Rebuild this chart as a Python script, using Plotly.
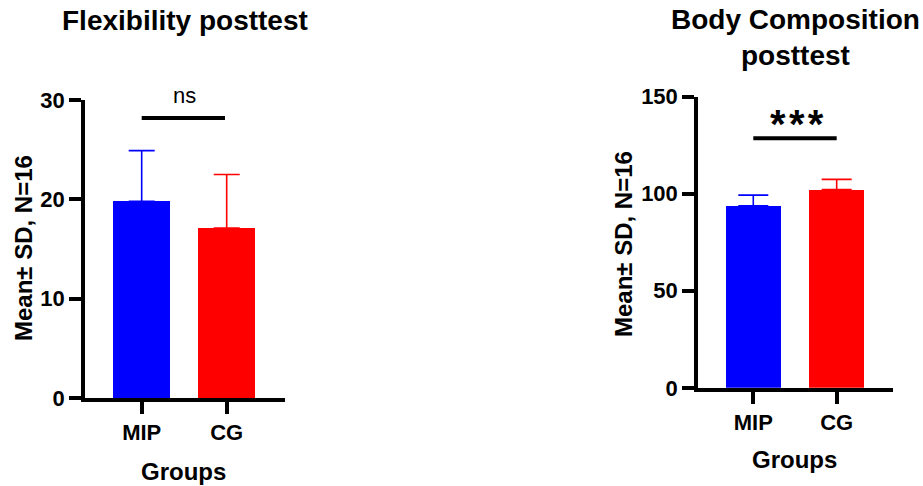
import plotly.graph_objects as go

W, H = 923, 486

groups = ["MIP", "CG"]
colors = ["#0000FF", "#FF0000"]

flex_mean = [19.8, 17.1]
flex_sd = [5.1, 5.4]

body_mean = [93.8, 102.2]
body_sd = [5.5, 5.2]

flex_sig = "ns"
body_sig = "*\u200a*\u200a*"

FONT = "Liberation Sans, Arial, sans-serif"


def px_x(p):
    return p / W


def px_y(p):
    return (H - p) / H


fig = go.Figure()

# bars
fig.add_trace(go.Bar(
    x=groups, y=flex_mean, marker=dict(color=colors, line=dict(width=0)),
    width=0.67, xaxis="x", yaxis="y", showlegend=False,
))
fig.add_trace(go.Bar(
    x=groups, y=body_mean, marker=dict(color=colors, line=dict(width=0)),
    width=0.663, xaxis="x2", yaxis="y2", showlegend=False,
))

# upper SD whiskers, coloured per group
for mean, sd, xa, ya, w in ((flex_mean, flex_sd, "x", "y", 13),
                            (body_mean, body_sd, "x2", "y2", 15)):
    for i, g in enumerate(groups):
        fig.add_trace(go.Scatter(
            x=[g], y=[mean[i]], mode="markers",
            marker=dict(size=1, color=colors[i], opacity=0),
            error_y=dict(type="data", array=[sd[i]], arrayminus=[0], symmetric=False,
                         color=colors[i], thickness=1.6, width=w),
            xaxis=xa, yaxis=ya, showlegend=False, hoverinfo="skip",
        ))

axis_common = dict(
    showline=True, linecolor="black", linewidth=3.5, ticks="outside", ticklen=12,
    tickwidth=3.5, tickcolor="black", showgrid=False, zeroline=False,
    automargin=False,
    tickfont=dict(family=FONT, size=22, color="black", weight="bold"),
)

fig.update_layout(
    template="none",
    width=W, height=H, margin=dict(l=0, r=0, t=0, b=0, pad=0),
    paper_bgcolor="white", plot_bgcolor="white",
    xaxis=dict(domain=[px_x(85), px_x(285)], range=[-0.667, 1.686], anchor="y",
               type="category", **axis_common),
    yaxis=dict(domain=[px_y(398), px_y(100)], range=[0, 30], anchor="x",
               tickvals=[0, 10, 20, 30], **axis_common),
    xaxis2=dict(domain=[px_x(698), px_x(893.3)], range=[-0.663, 1.679], anchor="y2",
                type="category", **axis_common),
    yaxis2=dict(domain=[px_y(387.8), px_y(96.7)], range=[0, 150], anchor="x2",
                tickvals=[0, 50, 100, 150], **axis_common),
    bargap=0,
)

# significance bars
fig.add_shape(type="line", xref="x", yref="y", x0=0, x1=0.98, y0=28.2, y1=28.2,
              line=dict(color="black", width=4))
fig.add_shape(type="line", xref="x2", yref="y2", x0=0, x1=1.0, y0=128.6, y1=128.6,
              line=dict(color="black", width=4))

bold = dict(family=FONT, color="black", weight="bold")
mid = dict(xanchor="center", yanchor="middle", showarrow=False,
           xref="paper", yref="paper")
annos = [
    dict(text=flex_sig, x=px_x(184), y=px_y(95),
         font=dict(family=FONT, size=22, color="black"), **mid),
    dict(text=body_sig, x=px_x(796.5), y=px_y(124),
         font=dict(size=40, **bold), **mid),
    dict(text="Flexibility posttest", x=px_x(185), y=px_y(20),
         font=dict(size=28, **bold), **mid),
    dict(text="Body Composition<br>posttest", x=px_x(795), y=px_y(38),
         font=dict(size=28, **bold), **mid),
    dict(text="Mean± SD, N=16", x=px_x(23), y=px_y(248), textangle=-90,
         font=dict(size=24, **bold), **mid),
    dict(text="Mean± SD, N=16", x=px_x(624), y=px_y(244), textangle=-90,
         font=dict(size=24, **bold), **mid),
    dict(text="Groups", x=px_x(183.5), y=px_y(471),
         font=dict(size=24, **bold), **mid),
    dict(text="Groups", x=px_x(794), y=px_y(459),
         font=dict(size=24, **bold), **mid),
]
fig.update_layout(annotations=annos)

fig.write_html("out.html")
